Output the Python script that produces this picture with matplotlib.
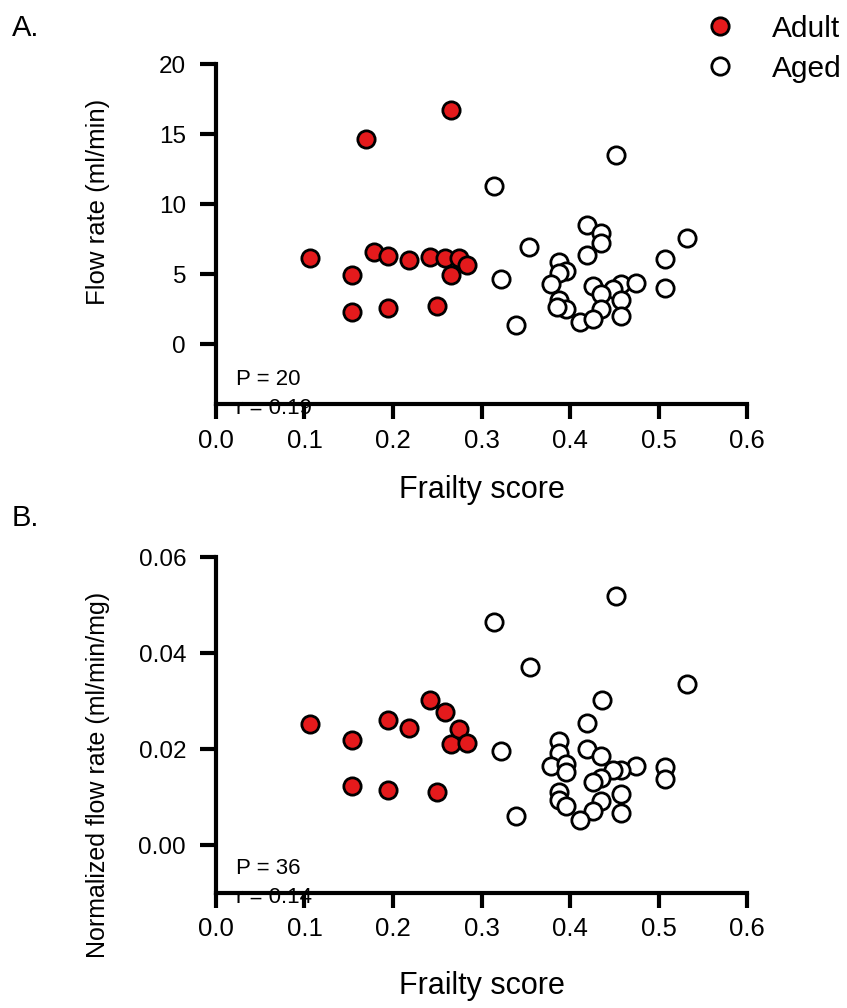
import numpy as np
import matplotlib
matplotlib.use('Agg')
import matplotlib.pyplot as plt
from matplotlib.lines import Line2D

plt.rcParams['font.family'] = ['Liberation Sans', 'DejaVu Sans']

# --- Panel A: absolute flow rate ---
adult_frailty_a = [0.106, 0.154, 0.154, 0.169, 0.178, 0.194, 0.194, 0.218, 0.242,
                   0.250, 0.259, 0.266, 0.266, 0.275, 0.284]
adult_flow_a = [6.15, 4.92, 2.30, 14.67, 6.56, 6.32, 2.60, 5.99, 6.22,
                2.72, 6.11, 16.73, 4.90, 6.11, 5.61]

aged_frailty_a = [0.419, 0.435, 0.435, 0.354, 0.419, 0.507, 0.388, 0.395, 0.388,
                  0.322, 0.378, 0.426, 0.458, 0.475, 0.507, 0.449, 0.435, 0.458,
                  0.388, 0.395, 0.385, 0.435, 0.458, 0.411, 0.426, 0.339, 0.314,
                  0.452, 0.532]
aged_flow_a = [8.52, 7.93, 7.22, 6.94, 6.39, 6.08, 5.85, 5.21, 5.09,
               4.66, 4.26, 4.14, 4.26, 4.38, 4.03, 3.91, 3.55, 3.15,
               3.15, 2.53, 2.67, 2.53, 2.01, 1.54, 1.82, 1.35, 11.29,
               13.47, 7.57]

# --- Panel B: flow rate normalized by mass ---
adult_frailty_b = [0.106, 0.154, 0.154, 0.194, 0.194, 0.218, 0.242, 0.250,
                   0.259, 0.266, 0.275, 0.284]
adult_flow_b = [0.0253, 0.0219, 0.0124, 0.0260, 0.0115, 0.0244, 0.0303, 0.0111,
                0.0278, 0.0210, 0.0243, 0.0212]

aged_frailty_b = [0.419, 0.388, 0.419, 0.388, 0.322, 0.435, 0.378, 0.395, 0.395,
                  0.475, 0.458, 0.449, 0.507, 0.507, 0.435, 0.426, 0.388, 0.388,
                  0.395, 0.435, 0.426, 0.458, 0.458, 0.411, 0.339, 0.314, 0.452,
                  0.355, 0.532, 0.436]
aged_flow_b = [0.0254, 0.0217, 0.0201, 0.0193, 0.0197, 0.0186, 0.0166, 0.0170, 0.0152,
               0.0164, 0.0157, 0.0156, 0.0162, 0.0137, 0.0141, 0.0132, 0.0111, 0.0094,
               0.0081, 0.0092, 0.0071, 0.0106, 0.0067, 0.0053, 0.0060, 0.0466, 0.0519,
               0.0371, 0.0335, 0.0303]

x_ticks = [0.0, 0.1, 0.2, 0.3, 0.4, 0.5, 0.6]
stats_a = ['P = 20', 'r = 0.19']
stats_b = ['P = 36', 'r = 0.14']

red = '#e41a1c'
msize = 155
lw_edge = 2.0
spine_w = 3.0

fig = plt.figure(figsize=(8.47, 10.08), dpi=100)
ax_a = fig.add_axes([0.255, 0.599, 0.627, 0.3375])
ax_b = fig.add_axes([0.255, 0.114, 0.627, 0.333])


def style_axis(ax, label_pad):
    for side in ['top', 'right']:
        ax.spines[side].set_visible(False)
    for side in ['left', 'bottom']:
        ax.spines[side].set_linewidth(spine_w)
    ax.tick_params(axis='x', width=spine_w, length=10.5, labelsize=18.5, pad=7)
    ax.tick_params(axis='y', width=spine_w, length=11.5, labelsize=17.5, pad=10)
    ax.set_xlim(0, 0.6)
    ax.set_xticks(x_ticks)
    ax.set_xticklabels([f'{t:.1f}' for t in x_ticks])
    ax.set_xlabel('Frailty score', fontsize=22, labelpad=label_pad)


# Panel A
ax_a.scatter(adult_frailty_a, adult_flow_a, s=msize, c=red, edgecolors='black',
             linewidths=lw_edge, zorder=3, clip_on=False)
ax_a.scatter(aged_frailty_a, aged_flow_a, s=msize, c='white', edgecolors='black',
             linewidths=lw_edge, zorder=3, clip_on=False)
style_axis(ax_a, 16)
ax_a.set_ylim(-4.3, 20)
ax_a.set_yticks([0, 5, 10, 15, 20])
ax_a.set_ylabel('Flow rate (ml/min)', fontsize=18.5)
ax_a.yaxis.set_label_coords(-0.2, 0.594)
ax_a.text(0.037, 0.072, stats_a[0], transform=ax_a.transAxes, fontsize=16, va='center')
ax_a.text(0.037, -0.012, stats_a[1], transform=ax_a.transAxes, fontsize=16, va='center',
          zorder=0)

# Panel B
ax_b.scatter(adult_frailty_b, adult_flow_b, s=msize, c=red, edgecolors='black',
             linewidths=lw_edge, zorder=3, clip_on=False)
ax_b.scatter(aged_frailty_b, aged_flow_b, s=msize, c='white', edgecolors='black',
             linewidths=lw_edge, zorder=3, clip_on=False)
style_axis(ax_b, 21)
ax_b.set_ylim(-0.01, 0.06)
ax_b.set_yticks([0.0, 0.02, 0.04, 0.06])
ax_b.set_yticklabels(['0.00', '0.02', '0.04', '0.06'])
ax_b.set_ylabel('Normalized flow rate (ml/min/mg)', fontsize=18)
ax_b.yaxis.set_label_coords(-0.2, 0.351)
ax_b.text(0.037, 0.072, stats_b[0], transform=ax_b.transAxes, fontsize=16, va='center')
ax_b.text(0.037, -0.012, stats_b[1], transform=ax_b.transAxes, fontsize=16, va='center',
          zorder=0)

# panel letters
fig.text(0.014, 0.972, 'A.', fontsize=21, va='center')
fig.text(0.014, 0.486, 'B.', fontsize=21, va='center')

# legend
handles = [
    Line2D([], [], marker='o', linestyle='none', markersize=12.5, markerfacecolor=red,
           markeredgecolor='black', markeredgewidth=lw_edge),
    Line2D([], [], marker='o', linestyle='none', markersize=12.5, markerfacecolor='white',
           markeredgecolor='black', markeredgewidth=lw_edge),
]
fig.legend(handles, ['Adult', 'Aged'], loc='upper right', bbox_to_anchor=(1.026, 1.012),
           frameon=False, fontsize=21.5, handlelength=2.0, handletextpad=0.75,
           labelspacing=0.4)

fig.savefig('out.png', dpi=100)
